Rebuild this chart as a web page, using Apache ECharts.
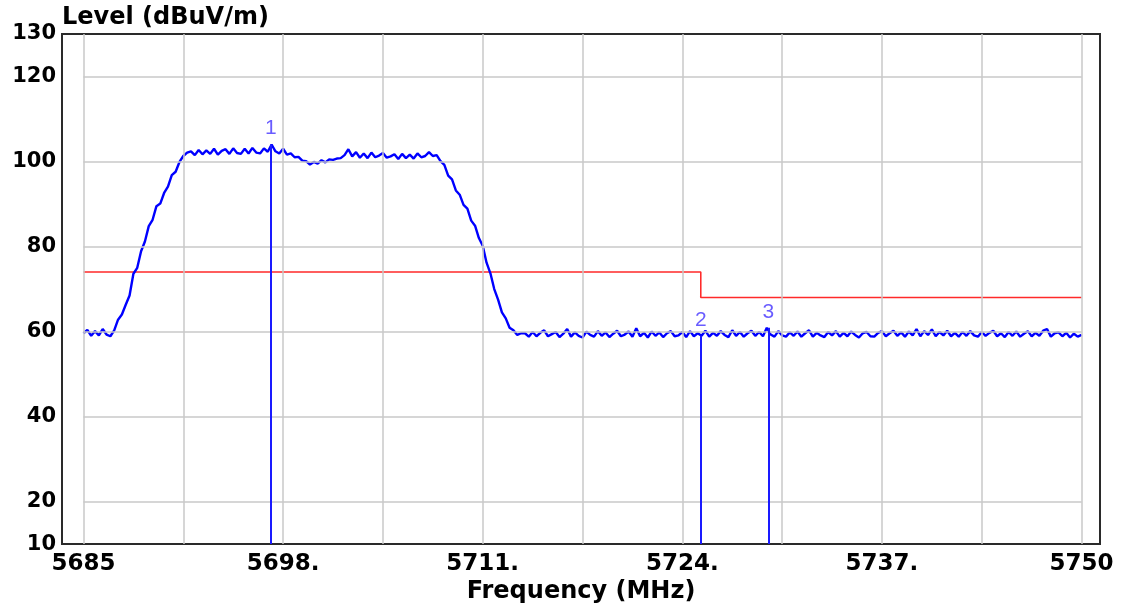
<!DOCTYPE html>
<html>
<head>
<meta charset="utf-8">
<title>Level (dBuV/m)</title>
<script src="https://cdn.jsdelivr.net/npm/echarts@6/dist/echarts.min.js"></script>
<style>
  html, body { margin: 0; padding: 0; background: #ffffff; overflow: hidden; }
  #chart { width: 1126px; height: 609px; }
</style>
</head>
<body>
<div id="chart"></div>
<script>
// Sweep: start frequency and step of the measured trace (MHz)
const sweepStartMHz = 5685;
const sweepStepMHz = 0.25;

// Measured level for each sweep point (dBuV/m)
const traceLevels = [
  59.6, 60.4, 59.0, 60.1, 59.1, 60.6, 59.3, 58.9, 60.3,
  62.8, 64.0, 66.3, 68.5, 73.6, 75.0, 78.9, 81.2, 84.8, 86.3,
  89.5, 90.1, 92.6, 94.1, 96.8, 97.6, 99.9, 101.3, 102.1,
  102.4, 101.5, 102.7, 101.7, 102.6, 101.8, 103.0, 101.6, 102.5, 102.9,
  101.8, 103.1, 102.0, 101.8, 103.0, 101.9, 103.2, 102.1, 101.9, 103.1,
  102.3, 104.0, 102.4, 101.9, 103.0, 101.6, 101.9, 101.0, 101.1, 100.2,
  100.1, 99.3, 99.9, 99.5, 100.3, 99.8, 100.5, 100.4, 100.7, 100.8,
  101.5, 102.9, 101.2, 102.2, 100.9, 101.9, 100.8, 102.1, 101.0, 101.4,
  102.0, 100.9, 101.2, 101.7, 100.6, 101.8, 100.8, 101.6, 100.7, 101.9,
  101.0, 101.3, 102.2, 101.3,
  101.5, 100.1, 99.2, 96.7, 95.8, 93.2, 92.2, 89.8, 88.9, 86.1,
  84.9, 82.0, 80.2, 76.2, 73.7, 70.0, 67.5, 64.5, 63.1, 60.9,
  60.3, 59.2, 59.6,
  59.6, 58.8, 59.9, 58.9, 59.7, 60.3, 58.9, 59.4, 59.9, 58.7,
  59.5, 60.6, 58.8, 59.8, 59.0, 58.6, 60.0, 59.2, 58.8, 60.1,
  59.0, 59.8, 58.7, 59.5, 60.2, 58.9, 59.3, 60.0, 58.8, 60.8,
  58.9, 59.7, 58.6, 60.0, 59.0, 59.8, 58.7, 59.6, 60.1, 58.9,
  59.1, 59.9, 58.7, 60.1, 58.9, 59.6, 59.0, 60.2, 58.8, 59.7,
  59.0, 60.1, 59.2, 58.7, 60.3, 59.0, 59.9, 58.8, 59.6, 60.2,
  59.0, 59.9, 58.9, 60.9, 59.3, 58.8, 60.1, 59.1, 58.8, 59.8,
  59.0, 60.0, 58.8, 59.6, 60.3, 58.8, 59.7, 59.1, 58.7, 59.9,
  59.1, 60.1, 58.8, 59.7, 58.9, 60.0, 59.2, 58.6, 59.6, 59.9,
  58.9, 58.8, 59.7, 60.1, 58.9, 59.6, 60.2, 59.0, 59.8, 58.8,
  60.0, 59.1, 60.6, 58.9, 60.1, 59.2, 60.5, 58.9, 59.9, 59.1,
  60.2, 58.9, 59.7, 58.8, 59.9, 59.0, 60.1, 59.1, 58.8, 59.9,
  59.0, 59.7, 60.2, 58.9, 59.6, 58.7, 59.9, 59.0, 60.0, 58.8,
  59.5, 60.1, 58.9, 59.7, 59.0, 60.2, 60.6, 58.8, 59.6, 59.8,
  58.9, 59.7, 58.6, 59.5, 58.8, 59.2
];

// Limit line (step at 5725.2 MHz)
const limitFreq = [5685, 5725.2, 5725.2, 5750];
const limitLevel = [74, 74, 68, 68];

// Markers
const markerNames = ['1', '2', '3'];
const markerFreq = [5697.2, 5725.2, 5729.6];
const markerLevel = [104.0, 59.0, 60.9];

// Axis ticks and labels
const xLabelValues = [5685, 5698, 5711, 5724, 5737, 5750];
const xLabelTexts = ['5685', '5698.', '5711.', '5724.', '5737.', '5750'];
const xGridValues = [5685, 5691.5, 5698, 5704.5, 5711, 5717.5, 5724, 5730.5, 5737, 5743.5, 5750];
const yLabelValues = [10, 20, 40, 60, 80, 100, 120, 130];
const yGridValues = [20, 40, 60, 80, 100, 120];
const yMin = 10, yMax = 130;

const tracePoints = traceLevels.map((v, i) => [sweepStartMHz + i * sweepStepMHz, v]);
const limitPoints = limitFreq.map((f, i) => [f, limitLevel[i]]);

const gridLineStyle = { color: '#c8c8c8', width: 1.5, type: 'solid' };
const gridMarks = [];
xGridValues.forEach(f => gridMarks.push([{ coord: [f, yMin] }, { coord: [f, yMax] }]));
yGridValues.forEach(l => gridMarks.push([{ coord: [xGridValues[0], l] }, { coord: [xGridValues[xGridValues.length - 1], l] }]));

const markerLines = markerFreq.map((f, i) => [{ coord: [f, yMin] }, { coord: [f, markerLevel[i]] }]);

const axisFont = { fontFamily: 'DejaVu Sans', fontWeight: 'bold', color: '#000' };

const chart = echarts.init(document.getElementById('chart'), null, { renderer: 'canvas' });
chart.setOption({
  animation: false,
  backgroundColor: '#ffffff',
  grid: {
    left: 62, right: 26, top: 34, bottom: 58,
    show: true, borderColor: '#2a2a2a', borderWidth: 2, backgroundColor: 'transparent'
  },
  xAxis: {
    type: 'value',
    min: 5683.6, max: 5751.2,
    name: 'Frequency (MHz)',
    nameLocation: 'middle',
    nameGap: 32,
    nameTextStyle: Object.assign({ fontSize: 24 }, axisFont),
    axisLine: { show: false },
    axisTick: { show: false },
    splitLine: { show: false },
    axisLabel: Object.assign({
      fontSize: 23, margin: 8,
      customValues: xLabelValues,
      formatter: v => xLabelTexts[xLabelValues.indexOf(v)] || ''
    }, axisFont)
  },
  yAxis: {
    type: 'value',
    min: yMin, max: yMax,
    name: 'Level (dBuV/m)',
    nameLocation: 'end',
    nameGap: 4,
    nameTextStyle: Object.assign({ fontSize: 24, align: 'left', verticalAlign: 'bottom' }, axisFont),
    axisLine: { show: false },
    axisTick: { show: false },
    splitLine: { show: false },
    axisLabel: Object.assign({
      fontSize: 21, margin: 6,
      customValues: yLabelValues
    }, axisFont)
  },
  series: [
    {
      name: 'grid',
      type: 'line',
      silent: true,
      z: 1,
      symbol: 'none',
      data: [[xGridValues[0], yMin]],
      lineStyle: { width: 0 },
      markLine: {
        silent: true, symbol: 'none', label: { show: false },
        lineStyle: gridLineStyle,
        data: gridMarks
      }
    },
    {
      name: 'Limit',
      type: 'line',
      z: 3,
      symbol: 'none',
      data: limitPoints,
      lineStyle: { color: '#ff2a2a', width: 1.6 },
      itemStyle: { color: '#ff2a2a' }
    },
    {
      name: 'Level',
      type: 'line',
      z: 4,
      symbol: 'none',
      data: tracePoints,
      lineStyle: { color: '#0000ff', width: 2.4 },
      itemStyle: { color: '#0000ff' }
    },
    {
      name: 'Markers',
      type: 'scatter',
      z: 5,
      symbolSize: 1,
      itemStyle: { color: 'rgba(0,0,0,0)' },
      data: markerFreq.map((f, i) => ({ name: markerNames[i], value: [f, markerLevel[i]] })),
      label: {
        show: true, position: 'top', distance: 5,
        formatter: p => p.name,
        color: '#4433ff', fontSize: 21, fontFamily: 'Liberation Sans'
      },
      markLine: {
        silent: true, symbol: 'none', label: { show: false },
        lineStyle: { color: '#1a1aff', width: 2, type: 'solid' },
        data: markerLines
      }
    }
  ]
});
</script>
</body>
</html>
